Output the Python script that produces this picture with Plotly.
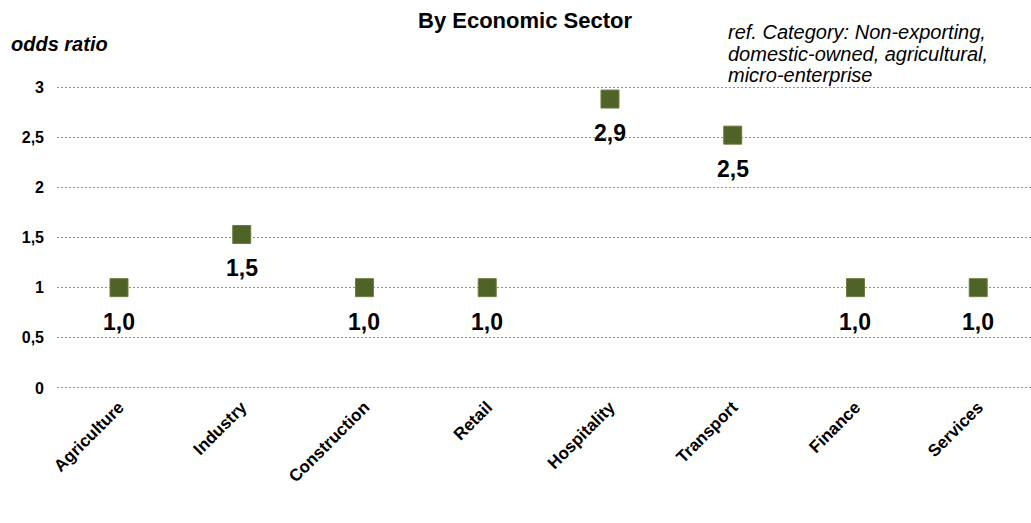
import plotly.graph_objects as go

sectors = ["Agriculture", "Industry", "Construction", "Retail", "Hospitality", "Transport", "Finance", "Services"]
odds = [1.0, 1.53, 1.0, 1.0, 2.88, 2.52, 1.0, 1.0]
labels = ["1,0", "1,5", "1,0", "1,0", "2,9", "2,5", "1,0", "1,0"]
ytick_vals = [0, 0.5, 1, 1.5, 2, 2.5, 3]
ytick_text = ["0", "0,5", "1", "1,5", "2", "2,5", "3"]
note_lines = ["ref. Category: Non-exporting,", "domestic-owned, agricultural,", "micro-enterprise"]

FONT = "Liberation Sans, Arial, sans-serif"
xs = list(range(len(sectors)))

W, H = 1031, 523
L, R, T, B = 57, 0, 82, 130
pw, ph = W - L - R, H - T - B

def px_to_paper(px, py):
    return (px - L) / pw, (H - B - py) / ph

fig = go.Figure()
fig.add_trace(go.Scatter(
    x=xs, y=odds, mode="markers",
    marker=dict(symbol="square", size=18, color="#4F6228",
                line=dict(color="#6B7F3E", width=1)),
    showlegend=False, hoverinfo="skip",
))

annotations = []
for xi, yi, lab in zip(xs, odds, labels):
    annotations.append(dict(x=xi, y=yi, xref="x", yref="y", text="<b>%s</b>" % lab, showarrow=False,
                            yshift=-34, font=dict(family=FONT, size=23, color="#000000"),
                            xanchor="center", yanchor="middle"))

tx, ty = px_to_paper(525, 21)
annotations.append(dict(x=tx, y=ty, xref="paper", yref="paper", text="<b>By Economic Sector</b>",
                        showarrow=False, font=dict(family=FONT, size=22, color="#000"),
                        xanchor="center", yanchor="middle"))
ox, oy = px_to_paper(9, 44)
annotations.append(dict(x=ox, y=oy, xref="paper", yref="paper", text="<b><i>odds ratio</i></b>",
                        showarrow=False, font=dict(family=FONT, size=20, color="#000"),
                        xanchor="left", yanchor="middle"))
for i, line in enumerate(note_lines):
    nx, ny = px_to_paper(726, 32 + 21.7 * i)
    annotations.append(dict(x=nx, y=ny, xref="paper", yref="paper", text="<i>%s</i>" % line,
                            showarrow=False, align="left",
                            font=dict(family=FONT, size=20, color="#000"),
                            xanchor="left", yanchor="middle"))

fig.update_layout(
    width=W, height=H,
    margin=dict(l=L, r=R, t=T, b=B),
    paper_bgcolor="white", plot_bgcolor="white",
    annotations=annotations,
    xaxis=dict(tickmode="array", tickvals=xs, ticktext=["<b>%s</b>" % s for s in sectors],
               tickangle=-45, range=[-0.505, 7.43], showgrid=False, zeroline=False,
               showline=False, ticks="", ticklabelstandoff=0,
               tickfont=dict(family=FONT, size=17, color="#000")),
    yaxis=dict(tickmode="array", tickvals=ytick_vals, ticktext=["<b>%s</b>" % t for t in ytick_text],
               range=[-0.05, 3.05], showgrid=True, gridcolor="#909090", griddash="2px,2px", gridwidth=1,
               zeroline=False, showline=False, ticks="", ticklabelstandoff=12,
               tickfont=dict(family=FONT, size=16, color="#000")),
)

fig.write_html("out.html")
